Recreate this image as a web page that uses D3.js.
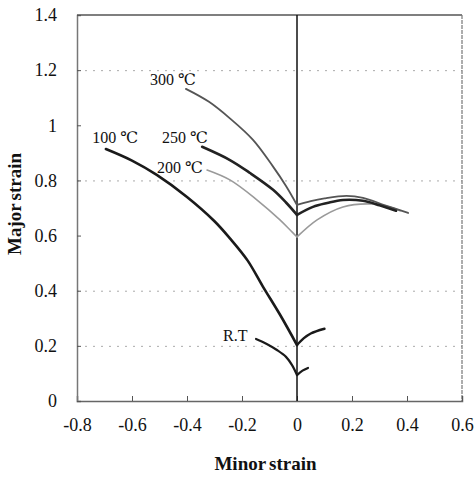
<!DOCTYPE html>
<html>
<head>
<meta charset="utf-8">
<script src="https://cdn.jsdelivr.net/npm/d3@7"></script>
<style>
  body { margin: 0; background: #fff; }
  svg { display: block; }
  svg text { font-family: "Liberation Serif", "Times New Roman", "DejaVu Serif", serif; }
</style>
</head>
<body>
<div id="chart"></div>
<script>
// tick values
const xTicks = [-0.8, -0.6, -0.4, -0.2, 0, 0.2, 0.4, 0.6];
const yTicks = [0, 0.2, 0.4, 0.6, 0.8, 1, 1.2, 1.4];
const gridValues = [0.2, 0.4, 0.8, 1.2];

// curves, split at minor strain = 0 (left / right branch)
const rtLeftX = [-0.149, -0.11, -0.073, -0.04, -0.018, 0];
const rtLeftY = [0.225, 0.207, 0.185, 0.16, 0.13, 0.094];
const rtRightX = [0, 0.02, 0.04];
const rtRightY = [0.094, 0.11, 0.12];

const c100LeftX = [-0.695, -0.6, -0.51, -0.4, -0.3, -0.244, -0.18, -0.124, -0.06, 0];
const c100LeftY = [0.914, 0.872, 0.82, 0.74, 0.652, 0.59, 0.51, 0.415, 0.31, 0.203];
const c100RightX = [0, 0.025, 0.05, 0.1];
const c100RightY = [0.203, 0.228, 0.245, 0.262];

const c200LeftX = [-0.327, -0.244, -0.145, -0.062, -0.025, 0];
const c200LeftY = [0.838, 0.802, 0.729, 0.657, 0.62, 0.595];
const c200RightX = [0, 0.073, 0.167, 0.265, 0.33, 0.375];
const c200RightY = [0.595, 0.657, 0.704, 0.715, 0.705, 0.69];

const c250LeftX = [-0.345, -0.244, -0.171, -0.087, -0.04, 0];
const c250LeftY = [0.922, 0.874, 0.827, 0.766, 0.72, 0.675];
const c250RightX = [0, 0.058, 0.11, 0.167, 0.24, 0.3, 0.36];
const c250RightY = [0.675, 0.704, 0.718, 0.729, 0.726, 0.71, 0.69];

const c300LeftX = [-0.404, -0.32, -0.244, -0.16, -0.087, -0.04, 0];
const c300LeftY = [1.132, 1.085, 1.025, 0.947, 0.85, 0.78, 0.711];
const c300RightX = [0, 0.05, 0.1, 0.18, 0.24, 0.32, 0.404];
const c300RightY = [0.711, 0.725, 0.735, 0.744, 0.737, 0.71, 0.682];

// curve labels (anchor at start, baseline)
const labelText = ["300 \u2103", "100 \u2103", "250 \u2103", "200 \u2103", "R.T"];
const labelX = [-0.535, -0.745, -0.491, -0.509, -0.269];
const labelY = [1.147, 0.936, 0.936, 0.827, 0.218];

const width = 475;
const height = 478;
const margin = { top: 15, right: 13, bottom: 77, left: 77 };

const svg = d3.select("#chart")
  .append("svg")
  .attr("width", width)
  .attr("height", height);

const x = d3.scaleLinear().domain([-0.8, 0.6]).range([margin.left, width - margin.right]);
const y = d3.scaleLinear().domain([0, 1.4]).range([height - margin.bottom, margin.top]);

// dotted gridlines
svg.append("g")
  .selectAll("line")
  .data(gridValues)
  .join("line")
  .attr("x1", x(-0.8))
  .attr("x2", x(0.6))
  .attr("y1", d => y(d) + 0.5)
  .attr("y2", d => y(d) + 0.5)
  .attr("stroke", "#aaa")
  .attr("stroke-width", 1)
  .attr("stroke-dasharray", "2,6");

// frame
svg.append("line")
  .attr("x1", x(-0.8)).attr("x2", x(0.6))
  .attr("y1", y(1.4)).attr("y2", y(1.4))
  .attr("stroke", "#555").attr("stroke-width", 1.5);
svg.append("line")
  .attr("x1", x(0.6)).attr("x2", x(0.6))
  .attr("y1", y(1.4)).attr("y2", y(0))
  .attr("stroke", "#777").attr("stroke-width", 1.2)
  .attr("stroke-dasharray", "4,1");

// axes with inward ticks
const xAxis = svg.append("g")
  .attr("transform", `translate(0,${y(0)})`)
  .call(d3.axisBottom(x).tickValues(xTicks).tickSize(-5).tickPadding(14)
    .tickFormat(d => String(d)));
xAxis.attr("font-family", null);
xAxis.select(".domain").attr("stroke", "#666").attr("stroke-width", 1.5);
xAxis.selectAll(".tick line").attr("stroke", "#555");
xAxis.selectAll("text")
  .attr("font-size", 18)
  .attr("fill", "#111")
  .attr("dy", "0.9em");

const yAxis = svg.append("g")
  .attr("transform", `translate(${x(-0.8)},0)`)
  .call(d3.axisLeft(y).tickValues(yTicks).tickSize(-4).tickPadding(20)
    .tickFormat(d => String(d)));
yAxis.attr("font-family", null);
yAxis.select(".domain").attr("stroke", "#777").attr("stroke-width", 1.5);
yAxis.selectAll(".tick line").attr("stroke", "#555");
yAxis.selectAll("text")
  .attr("font-size", 18)
  .attr("fill", "#111");

// vertical line at minor strain = 0
svg.append("line")
  .attr("x1", x(0)).attr("x2", x(0))
  .attr("y1", y(0)).attr("y2", y(1.4))
  .attr("stroke", "#111").attr("stroke-width", 1.5);

// curves
const line = d3.line()
  .x(d => x(d[0]))
  .y(d => y(d[1]))
  .curve(d3.curveCatmullRom.alpha(0.5));

const zip = (xs, ys) => xs.map((v, i) => [v, ys[i]]);

const curves = [
  { pts: zip(c200LeftX, c200LeftY), color: "#9a9a9a", w: 1.6 },
  { pts: zip(c200RightX, c200RightY), color: "#9a9a9a", w: 1.6 },
  { pts: zip(c300LeftX, c300LeftY), color: "#555", w: 1.8 },
  { pts: zip(c300RightX, c300RightY), color: "#555", w: 1.8 },
  { pts: zip(c250LeftX, c250LeftY), color: "#222", w: 2.6 },
  { pts: zip(c250RightX, c250RightY), color: "#222", w: 2.6 },
  { pts: zip(c100LeftX, c100LeftY), color: "#1a1a1a", w: 2.6 },
  { pts: zip(c100RightX, c100RightY), color: "#1a1a1a", w: 2.4 },
  { pts: zip(rtLeftX, rtLeftY), color: "#1a1a1a", w: 2.2 },
  { pts: zip(rtRightX, rtRightY), color: "#1a1a1a", w: 2.2 }
];

svg.append("g")
  .selectAll("path")
  .data(curves)
  .join("path")
  .attr("d", d => line(d.pts))
  .attr("fill", "none")
  .attr("stroke", d => d.color)
  .attr("stroke-width", d => d.w)
  .attr("stroke-linecap", "round");

// curve labels
svg.append("g")
  .selectAll("text")
  .data(labelText)
  .join("text")
  .attr("x", (d, i) => x(labelX[i]))
  .attr("y", (d, i) => y(labelY[i]))
  .attr("font-size", 16)
  .attr("fill", "#111")
  .text(d => d);

// axis titles
svg.append("text")
  .attr("x", x(-0.1) - 4)
  .attr("y", 470)
  .attr("text-anchor", "middle")
  .attr("font-weight", "bold")
  .attr("font-size", 19)
  .attr("word-spacing", -1.5)
  .attr("fill", "#111")
  .text("Minor strain");

svg.append("text")
  .attr("transform", `translate(21,${204}) rotate(-90)`)
  .attr("text-anchor", "middle")
  .attr("font-weight", "bold")
  .attr("font-size", 19)
  .attr("word-spacing", -1.5)
  .attr("fill", "#111")
  .text("Major strain");
</script>
</body>
</html>
